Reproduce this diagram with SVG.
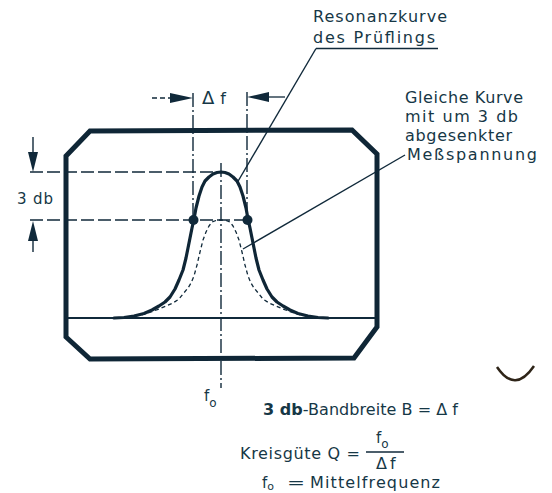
<svg xmlns="http://www.w3.org/2000/svg" width="552" height="493" viewBox="0 0 552 493">
<style>
  .ink { stroke: #10293a; fill: none; }
  .frame { stroke: #0f2636; stroke-width: 5; fill: none; stroke-linejoin: miter; }
  .thin { stroke: #10293a; stroke-width: 1.4; fill: none; }
  .dash { stroke: #10293a; stroke-width: 1.5; fill: none; stroke-dasharray: 13 4; }
  .dashdot { stroke: #10293a; stroke-width: 1.4; fill: none; stroke-dasharray: 14 3 2 3; }
  .curve { stroke: #0f2636; stroke-width: 3.2; fill: none; stroke-linejoin: round; stroke-linecap: round; }
  .dcurve { stroke: #10293a; stroke-width: 1.3; fill: none; stroke-dasharray: 4 3; stroke-linejoin: round; }
  .head { fill: #10293a; stroke: none; }
  text { font-family: "DejaVu Sans", "Liberation Sans", sans-serif; fill: #163746; }
  .lbl { font-size: 16px; }
  .eq { font-size: 16px; }
</style>

<g id="screen">
  <path class="frame" d="M90,131 L352,130 L377,154 L377,327 L354,358 L90,359 L66,337 L66,156 Z"/>
  <line class="ink" x1="68" y1="318" x2="375" y2="318" stroke-width="2"/>
</g>

<g id="guides">
  <line class="dashdot" x1="221" y1="163" x2="221" y2="388"/>
  <line class="dashdot" x1="193" y1="93" x2="193" y2="220"/>
  <line class="dashdot" x1="247" y1="92" x2="247" y2="220"/>
  <line class="dash" x1="30" y1="172" x2="221" y2="172"/>
  <line class="dash" x1="30" y1="220" x2="247" y2="220"/>
</g>

<g id="curve-resonance">
  <polyline class="curve" points="114,318 124,317.5 134,316 144,313.5 152,310 159,306 165,302 170,297 175,289 179,280 183,270 186,258 188,248 190,238 192,228 194,219 196,208 199,196 202,187 205,181 209,177 213,174 217,172.5 221,172 225,172.5 229,174 233,177 237,181 240,187 243,196 246,208 248,219 250,228 252,238 254,248 256,258 259,270 263,280 267,289 272,297 277,302 283,306 290,310 298,313.5 308,316 318,317.5 328,318"/>
  <circle class="head" cx="193.5" cy="220" r="5"/>
  <circle class="head" cx="247.5" cy="220" r="5"/>
</g>

<g id="curve-reduced">
  <polyline class="dcurve" points="121,318 131,317 141,315 151,312 159,309 166,306 173,303 179,299 183,294 188,288 191,283 194,276 197,265 200,252 203,240 206,232 209,226 212,222 216,220.5 221,220 226,220.5 230,222 233,226 236,232 239,240 242,252 245,265 248,276 251,283 254,288 259,294 263,299 269,303 276,306 283,309 291,312 301,315 311,317 321,318"/>
</g>

<g id="dim-deltaf">
  <line class="ink" x1="152" y1="98" x2="172" y2="98" stroke-width="1.3" stroke-dasharray="5 3"/>
  <polygon class="head" points="170,93 170,103 193,98"/>
  <line class="ink" x1="266" y1="97" x2="285" y2="97" stroke-width="1.3"/>
  <polygon class="head" points="269,92 269,102 247,97"/>
  <text x="202" y="104" font-size="18">Δ<tspan dx="6" font-size="16">f</tspan></text>
</g>

<g id="dim-3db">
  <line class="ink" x1="33" y1="137" x2="33" y2="154" stroke-width="1.4"/>
  <polygon class="head" points="28,152 38,152 33,172"/>
  <line class="ink" x1="33" y1="238" x2="33" y2="252" stroke-width="1.4"/>
  <polygon class="head" points="28,241 38,241 33,221"/>
  <text x="17" y="204" font-size="15" textLength="36" lengthAdjust="spacing">3 db</text>
</g>

<g id="label-resonanz">
  <text class="lbl" x="313" y="22" textLength="134" lengthAdjust="spacing">Resonanzkurve</text>
  <text class="lbl" x="313" y="42.5" textLength="122" lengthAdjust="spacing">des Prüflings</text>
  <line class="thin" x1="316" y1="48.5" x2="438" y2="48.5"/>
</g>

<g id="label-gleiche">
  <text class="lbl" x="405" y="103" textLength="118" lengthAdjust="spacing">Gleiche Kurve</text>
  <text class="lbl" x="405" y="122" textLength="113" lengthAdjust="spacing">mit um 3 db</text>
  <text class="lbl" x="405" y="140.5" textLength="107" lengthAdjust="spacing">abgesenkter</text>
  <text class="lbl" x="407" y="159.5" textLength="130" lengthAdjust="spacing">Meßspannung</text>
</g>

<g id="connectors">
  <line class="thin" x1="316" y1="48.5" x2="237" y2="183"/>
  <line class="thin" x1="405" y1="155" x2="243" y2="249"/>
</g>

<g id="label-f0">
  <text x="204" y="401" font-size="15">f<tspan dy="6" font-size="12">o</tspan></text>
</g>

<g id="formulas">
  <text class="eq" x="263" y="415" textLength="195" lengthAdjust="spacing"><tspan font-weight="bold">3 db</tspan>-Bandbreite B = Δ f</text>

  <text class="eq" x="240" y="459" textLength="120" lengthAdjust="spacing">Kreisgüte Q =</text>
  <text x="376" y="443" font-size="15">f<tspan dy="5" font-size="12">o</tspan></text>
  <line class="ink" x1="366" y1="452" x2="404" y2="452" stroke-width="1.5"/>
  <text x="376" y="468.5" font-size="16">Δ<tspan dx="3">f</tspan></text>

  <text x="262" y="488" font-size="15">f<tspan dy="2" font-size="11">o</tspan></text>
  <text class="eq" x="287" y="488" textLength="18" lengthAdjust="spacingAndGlyphs">=</text>
  <text class="eq" x="310" y="488" textLength="130" lengthAdjust="spacing">Mittelfrequenz</text>
</g>

<g id="artifact">
  <path d="M497,367 Q515,394 534,366" stroke="#2e2418" stroke-width="2.5" fill="none"/>
</g>
</svg>
